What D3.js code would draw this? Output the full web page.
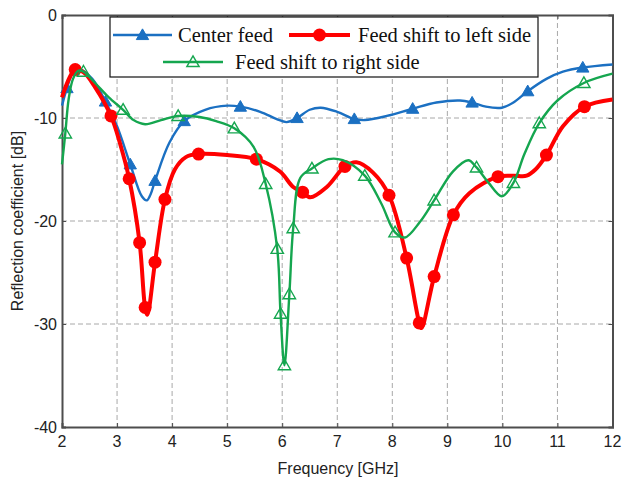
<!DOCTYPE html>
<html>
<head>
<meta charset="utf-8">
<script src="https://cdn.jsdelivr.net/npm/d3@7"></script>
<style>
  html, body { margin: 0; padding: 0; background: #fff; }
  svg { display: block; }
</style>
</head>
<body>
<svg id="chart" width="625" height="491"></svg>
<script>
// Reflection coefficient vs. frequency for three feed positions.
// Curve points (GHz, dB) and the marker points that sit on each curve.
const centerCurve = [[2.0,-8.8],[2.2,-5.6],[2.33,-5.3],[2.55,-6.2],[3.0,-10.8],[3.45,-17.6],[3.54,-18.0],[3.61,-17.4],[3.95,-12.4],[4.6,-9.2],[5.0,-8.8],[5.6,-9.4],[5.9,-10.1],[6.08,-10.4],[6.5,-9.2],[6.7,-9.0],[7.0,-9.4],[7.5,-10.2],[7.9,-9.8],[8.8,-8.5],[9.23,-8.3],[9.7,-8.9],[9.99,-9.0],[10.2,-8.5],[10.8,-6.2],[11.1,-5.5],[12.0,-4.8]];
const centerMarks = [[2.09,-7.1],[2.79,-8.4],[3.24,-14.5],[3.69,-16.1],[4.22,-10.3],[5.24,-8.9],[6.27,-10.0],[7.31,-10.1],[8.37,-9.1],[9.45,-8.5],[10.46,-7.4],[11.46,-5.1]];

const leftCurve = [[2.0,-8.0],[2.4,-5.6],[2.6,-7.0],[3.05,-12.4],[3.55,-29.1],[4.05,-15.0],[4.25,-13.8],[5.0,-13.6],[5.96,-15.2],[6.2,-16.7],[6.51,-17.7],[6.81,-16.7],[7.35,-14.3],[7.65,-15.3],[8.53,-30.4],[9.4,-17.3],[10.2,-15.6],[10.44,-15.6],[10.6,-15.0],[11.1,-10.8],[12.0,-8.2]];
const leftMarks = [[2.24,-5.3],[2.89,-9.8],[3.22,-15.9],[3.41,-22.1],[3.51,-28.4],[3.69,-24.0],[3.87,-17.9],[4.48,-13.5],[5.53,-14.0],[6.37,-17.2],[7.14,-14.7],[7.94,-17.5],[8.26,-23.6],[8.49,-29.9],[8.76,-25.4],[9.11,-19.4],[9.92,-15.7],[10.80,-13.6],[11.49,-8.9]];

const rightCurve = [[2.0,-14.5],[2.12,-8.2],[2.2,-6.2],[2.3,-5.4],[2.6,-6.6],[2.85,-8.0],[3.3,-10.2],[3.51,-10.6],[3.8,-10.2],[4.5,-9.9],[4.8,-10.3],[5.48,-12.8],[6.33,-15.8],[6.84,-14.0],[7.1,-14.1],[7.8,-18.3],[8.23,-21.6],[8.5,-20.1],[9.1,-15.2],[9.38,-14.1],[9.75,-16.3],[9.99,-17.6],[10.4,-13.5],[11.0,-8.3],[12.0,-5.7]];
const rightMarks = [[2.06,-11.5],[2.39,-5.5],[3.11,-9.2],[4.11,-9.8],[5.13,-11.0],[5.70,-16.4],[5.91,-22.7],[5.97,-29.0],[6.04,-34.0],[6.13,-27.1],[6.20,-20.7],[6.54,-14.9],[7.50,-15.6],[8.05,-21.1],[8.76,-18.0],[9.53,-14.8],[10.20,-16.3],[10.67,-10.5],[11.48,-6.6]];

const xTicks = [2,3,4,5,6,7,8,9,10,11,12];
const yTicks = [0,-10,-20,-30,-40];
const seriesNames = ["Center feed", "Feed shift to left side", "Feed shift to right side"];

const svg = d3.select("#chart");
const plotL = 62, plotR = 612.5, plotT = 15, plotB = 427;

const x = d3.scaleLinear().domain([2, 12]).range([plotL, plotR]);
const y = d3.scaleLinear().domain([-40, 0]).range([plotB, plotT]);

const sans = "'Liberation Sans', Arial, sans-serif";
const serif = "'Liberation Serif', 'Times New Roman', serif";

// grid
const grid = svg.append("g").attr("stroke", "#a8a8a8").attr("stroke-width", 1).attr("stroke-dasharray", "5,3");
grid.selectAll("line.v").data(xTicks.slice(1, -1)).join("line").attr("class", "v")
  .attr("x1", d => x(d)).attr("x2", d => x(d)).attr("y1", plotT).attr("y2", plotB);
grid.selectAll("line.h").data(yTicks.slice(1, -1)).join("line").attr("class", "h")
  .attr("y1", d => y(d)).attr("y2", d => y(d)).attr("x1", plotL).attr("x2", plotR);

// axes (ticks point inward, labels drawn separately)
const axisColor = "#4d4d4d";
const gxB = svg.append("g").attr("transform", `translate(0,${plotB})`)
  .call(d3.axisBottom(x).tickValues(xTicks).tickSize(-4).tickFormat(""));
const gxT = svg.append("g").attr("transform", `translate(0,${plotT})`)
  .call(d3.axisTop(x).tickValues(xTicks).tickSize(-4).tickFormat(""));
const gyL = svg.append("g").attr("transform", `translate(${plotL},0)`)
  .call(d3.axisLeft(y).tickValues(yTicks).tickSize(-4).tickFormat(""));
const gyR = svg.append("g").attr("transform", `translate(${plotR},0)`)
  .call(d3.axisRight(y).tickValues(yTicks).tickSize(-4).tickFormat(""));
[gxB, gxT, gyL, gyR].forEach(g => {
  g.select(".domain").attr("stroke", axisColor).attr("stroke-width", 2);
  g.selectAll(".tick line").attr("stroke", axisColor).attr("stroke-width", 1);
});

// tick labels
svg.append("g").selectAll("text").data(xTicks).join("text")
  .attr("x", d => x(d)).attr("y", 447)
  .attr("text-anchor", "middle")
  .attr("font-family", sans).attr("font-size", 16).attr("fill", "#222")
  .text(d => d);
svg.append("g").selectAll("text").data(yTicks).join("text")
  .attr("x", 57).attr("y", d => y(d) + 5.5)
  .attr("text-anchor", "end")
  .attr("font-family", sans).attr("font-size", 16).attr("fill", "#222")
  .text(d => d);

// axis titles
svg.append("text")
  .attr("x", 338).attr("y", 474)
  .attr("text-anchor", "middle")
  .attr("font-family", sans).attr("font-size", 16).attr("fill", "#222")
  .text("Frequency [GHz]");
svg.append("text")
  .attr("transform", `translate(23,${(plotT + plotB) / 2}) rotate(-90)`)
  .attr("text-anchor", "middle")
  .attr("font-family", sans).attr("font-size", 16).attr("fill", "#222")
  .text("Reflection coefficient [dB]");

// series
const line = d3.line().x(d => x(d[0])).y(d => y(d[1])).curve(d3.curveCatmullRom.alpha(0.5));
const merge = (curve, marks) => curve.concat(marks).sort((a, b) => a[0] - b[0]);

const blue = "#1b70c2", red = "#ff0000", green = "#15a64f";
const triSym = d3.symbol().type(d3.symbolTriangle).size(66);

const series = [
  { curve: centerCurve, marks: centerMarks, color: blue, width: 2.4, kind: "triFilled" },
  { curve: leftCurve, marks: leftMarks, color: red, width: 4, kind: "circle" },
  { curve: rightCurve, marks: rightMarks, color: green, width: 2.4, kind: "triOpen" }
];

const plot = svg.append("g");
function drawMarker(g, kind, color, px, py) {
  if (kind === "circle") {
    g.append("circle").attr("cx", px).attr("cy", py).attr("r", 6.5).attr("fill", color);
  } else {
    g.append("path").attr("d", triSym())
      .attr("transform", `translate(${px},${py + 1})`)
      .attr("fill", kind === "triFilled" ? color : "none")
      .attr("stroke", color).attr("stroke-width", kind === "triFilled" ? 1 : 1.4);
  }
}
series.forEach(s => {
  const g = plot.append("g");
  g.append("path").datum(merge(s.curve, s.marks))
    .attr("d", line).attr("fill", "none")
    .attr("stroke", s.color).attr("stroke-width", s.width).attr("stroke-linejoin", "round");
  s.marks.forEach(m => drawMarker(g, s.kind, s.color, x(m[0]), y(m[1])));
});

// legend
const lg = svg.append("g");
lg.append("rect").attr("x", 110).attr("y", 17).attr("width", 428).attr("height", 60)
  .attr("fill", "#fff").attr("stroke", "#111").attr("stroke-width", 1.2);
const legendRows = [
  { x1: 113, x2: 172, y: 35, tx: 178, ty: 42, s: series[0], name: seriesNames[0] },
  { x1: 289, x2: 350, y: 35, tx: 358, ty: 42, s: series[1], name: seriesNames[1] },
  { x1: 163, x2: 223, y: 62, tx: 235, ty: 69, s: series[2], name: seriesNames[2] }
];
legendRows.forEach(r => {
  lg.append("line").attr("x1", r.x1).attr("x2", r.x2).attr("y1", r.y).attr("y2", r.y)
    .attr("stroke", r.s.color).attr("stroke-width", r.s.width);
  drawMarker(lg, r.s.kind, r.s.color, (r.x1 + r.x2) / 2, r.y);
  lg.append("text").attr("x", r.tx).attr("y", r.ty)
    .attr("font-family", serif).attr("font-size", 20.5).attr("fill", "#111")
    .text(r.name);
});
</script>
</body>
</html>
